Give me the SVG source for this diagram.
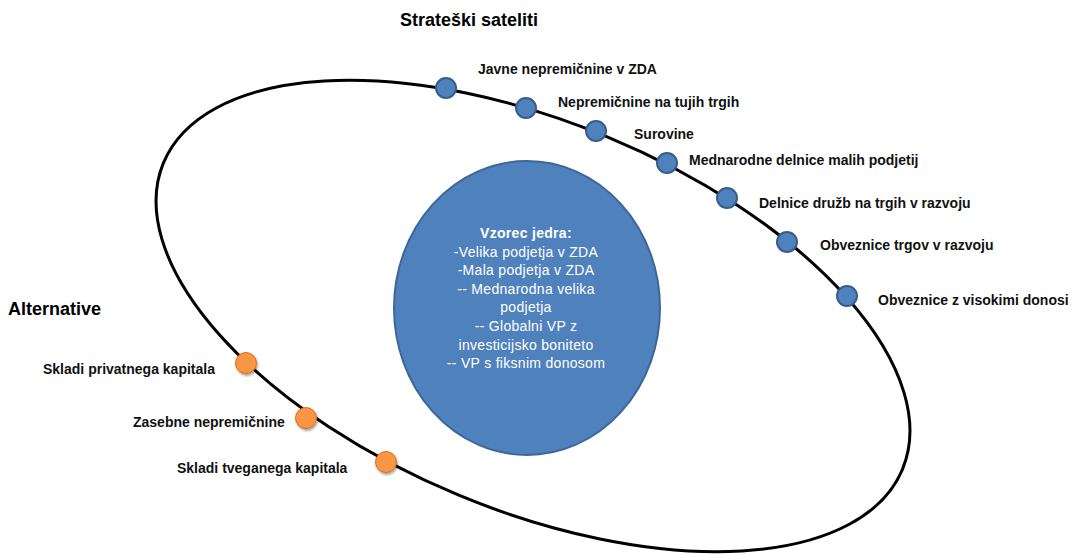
<svg xmlns="http://www.w3.org/2000/svg" width="1076" height="554" viewBox="0 0 1076 554">
<defs>
<style>
.lbl{font-family:"Liberation Sans",Arial,sans-serif;font-size:14px;font-weight:bold;fill:#111}
.ttl{font-family:"Liberation Sans",Arial,sans-serif;font-size:18px;font-weight:bold;fill:#000}
.core{font-family:"Liberation Sans",Arial,sans-serif;font-size:14px;fill:#fff;text-anchor:middle;letter-spacing:0.3px}
.sat{fill:#4F81BD;stroke:#385D8A;stroke-width:2}
.alt{fill:#F79646;stroke:#E46C0A;stroke-width:1}
.orbit{fill:none;stroke:#000;stroke-width:3}
</style>
<filter id="sh" x="-50%" y="-50%" width="200%" height="200%">
<feDropShadow dx="1" dy="2" stdDeviation="1.2" flood-color="#000" flood-opacity="0.35"/>
</filter>
</defs>
<rect width="1076" height="554" fill="#fff"/>
<g id="connectors">
<ellipse class="orbit" cx="533" cy="316" rx="400" ry="194" transform="rotate(22.5 533 316)"/>
</g>
<g id="core">
<ellipse cx="527" cy="308" rx="133" ry="147" fill="#4F81BD" stroke="#3C679A" stroke-width="2"/>
<text class="core" x="526" y="238" font-weight="bold">Vzorec jedra:</text>
<text class="core" x="526" y="256.6">-Velika podjetja v ZDA</text>
<text class="core" x="526" y="275.2">-Mala podjetja v ZDA</text>
<text class="core" x="526" y="293.8">-- Mednarodna velika</text>
<text class="core" x="526" y="312.4">podjetja</text>
<text class="core" x="526" y="331">-- Globalni VP z</text>
<text class="core" x="526" y="349.6">investicijsko boniteto</text>
<text class="core" x="526" y="368.2">-- VP s fiksnim donosom</text>
</g>
<g id="titles">
<text class="ttl" x="400" y="26">Strateški sateliti</text>
<text class="ttl" x="8" y="315">Alternative</text>
</g>
<g id="sat1"><circle class="sat" cx="446" cy="88" r="10"/><text class="lbl" x="478" y="74">Javne nepremičnine v ZDA</text></g>
<g id="sat2"><circle class="sat" cx="526" cy="108" r="10"/><text class="lbl" x="558" y="107">Nepremičnine na tujih trgih</text></g>
<g id="sat3"><circle class="sat" cx="596" cy="131" r="10"/><text class="lbl" x="634" y="139">Surovine</text></g>
<g id="sat4"><circle class="sat" cx="667" cy="163" r="10"/><text class="lbl" x="689" y="165">Mednarodne delnice malih podjetij</text></g>
<g id="sat5"><circle class="sat" cx="727" cy="198" r="10"/><text class="lbl" x="759" y="208">Delnice družb na trgih v razvoju</text></g>
<g id="sat6"><circle class="sat" cx="787" cy="242" r="10"/><text class="lbl" x="820" y="250">Obveznice trgov v razvoju</text></g>
<g id="sat7"><circle class="sat" cx="847" cy="296" r="10"/><text class="lbl" x="878" y="305">Obveznice z visokimi donosi</text></g>
<g id="alt1"><circle class="alt" cx="246" cy="363" r="10.5" filter="url(#sh)"/><text class="lbl" x="43" y="374">Skladi  privatnega kapitala</text></g>
<g id="alt2"><circle class="alt" cx="306" cy="418" r="10.5" filter="url(#sh)"/><text class="lbl" x="133" y="427">Zasebne nepremičnine</text></g>
<g id="alt3"><circle class="alt" cx="386" cy="462" r="10.5" filter="url(#sh)"/><text class="lbl" x="177" y="473">Skladi  tveganega kapitala</text></g>
</svg>
